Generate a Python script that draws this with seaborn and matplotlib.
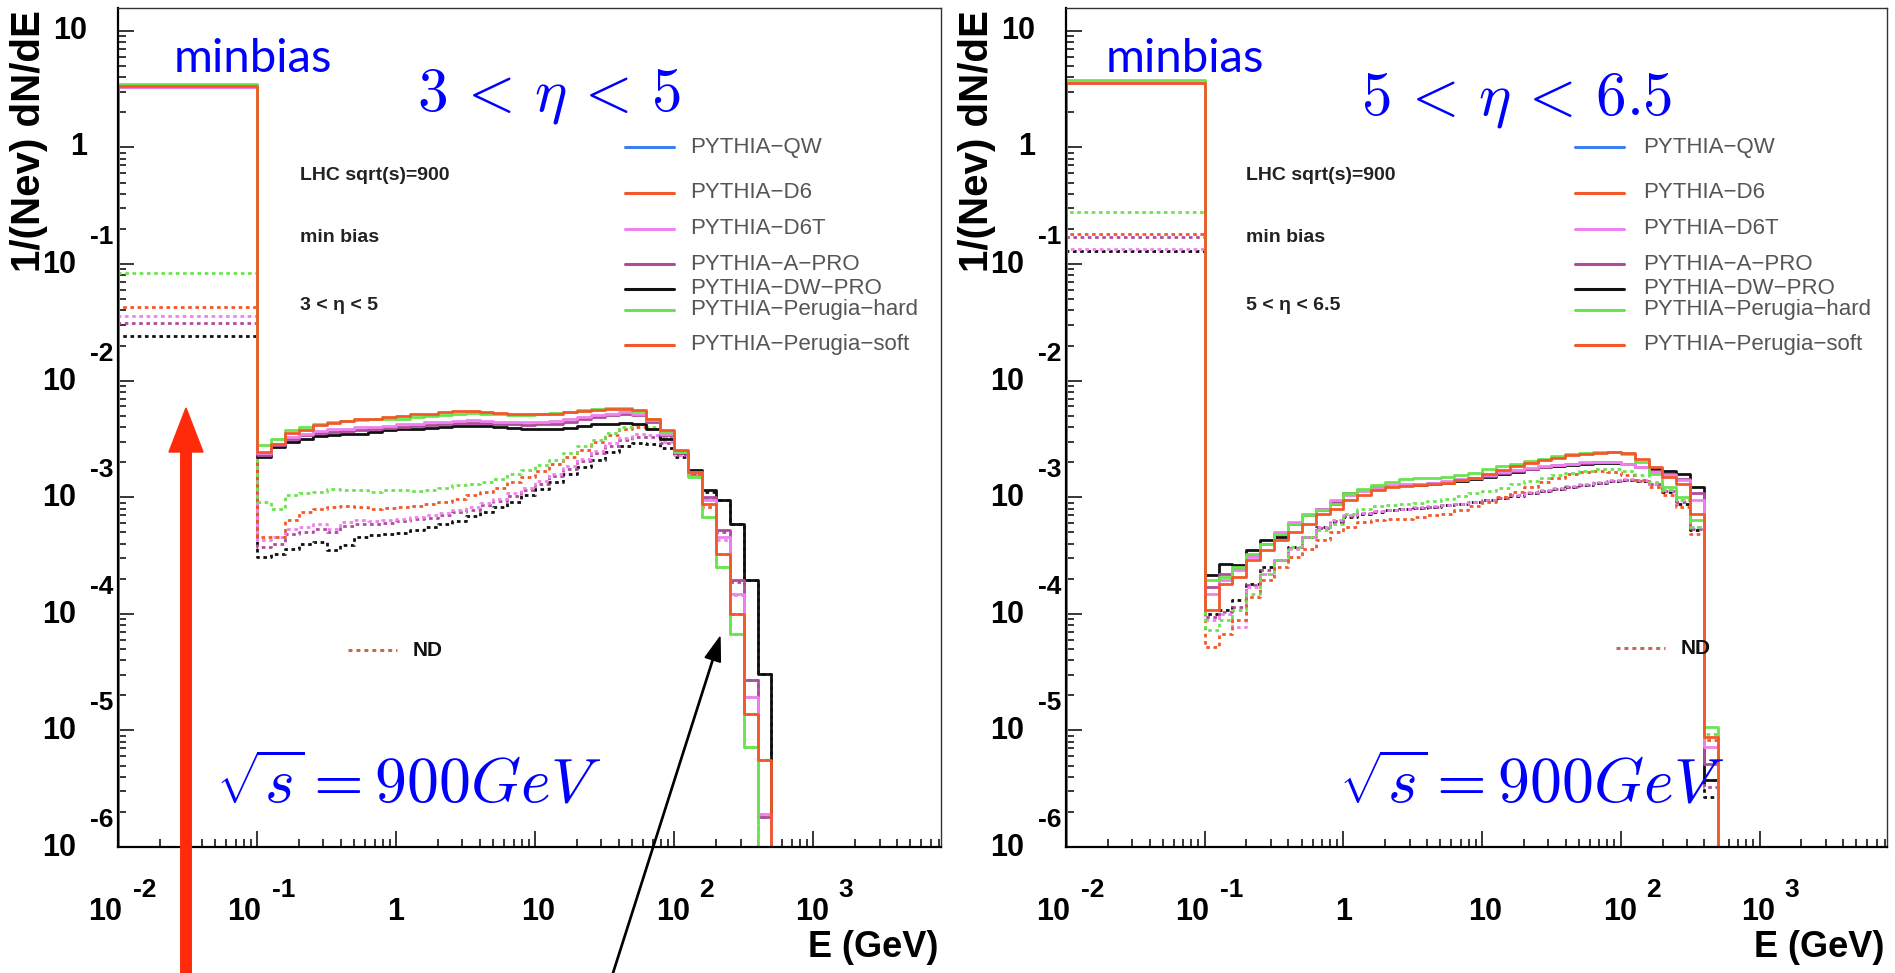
import numpy as np
import matplotlib
matplotlib.use("Agg")
import matplotlib.pyplot as plt
import seaborn as sns
from matplotlib.lines import Line2D
from matplotlib.patches import FancyArrow
from matplotlib.transforms import IdentityTransform
from matplotlib.ticker import LogLocator, FixedLocator, NullFormatter

# ------------------------------------------------------------------ data
# histogram binning: one wide bin 0.01-0.1 GeV, then 0.1-decade log bins up to ~500 GeV
FIRST_EDGE = 0.01
FINE_START_LOG = -1.0
FINE_STEP_LOG = 0.1
N_FINE = 37

TUNE_NAMES = ["PYTHIA\u2212QW", "PYTHIA\u2212D6", "PYTHIA\u2212D6T", "PYTHIA\u2212A\u2212PRO",
              "PYTHIA\u2212DW\u2212PRO", "PYTHIA\u2212Perugia\u2212hard", "PYTHIA\u2212Perugia\u2212soft"]
TUNE_COLORS = ["#3C7FF0", "#F2592A", "#EE82EE", "#B04C9C", "#111111", "#6BE34F", "#F2592A"]
ND_COLOR = "#C9694A"

# values are log10(1/Nev dN/dE); first entry = 0.01-0.1 bin, then the 37 fine bins
# ---- 3 < eta < 5, all events (solid)
L3_SOFT = [0.526, -2.61, -2.54, -2.45, -2.425, -2.38, -2.36, -2.345, -2.33, -2.325, -2.316,
           -2.305, -2.29, -2.282, -2.27, -2.262, -2.262, -2.268, -2.276, -2.282, -2.288,
           -2.288, -2.282, -2.27, -2.259, -2.248, -2.24, -2.24, -2.253, -2.325, -2.425,
           -2.596, -2.782, -3.054, -3.483, -3.998, -4.856, -5.256]
L3_HARD = [0.544, -2.554, -2.497, -2.425, -2.396, -2.368, -2.353, -2.345, -2.339, -2.333, -2.328,
           -2.325, -2.316, -2.305, -2.293, -2.282, -2.279, -2.282, -2.288, -2.293, -2.293,
           -2.288, -2.276, -2.265, -2.253, -2.242, -2.236, -2.236, -2.259, -2.325, -2.439,
           -2.611, -2.825, -3.169, -3.598, -4.169, -5.142, -9.0]
L3_DWPRO = [0.52, -2.654, -2.568, -2.525, -2.497, -2.476, -2.468, -2.462, -2.454, -2.439, -2.425,
            -2.419, -2.414, -2.405, -2.396, -2.391, -2.388, -2.391, -2.396, -2.405, -2.411,
            -2.416, -2.414, -2.405, -2.391, -2.376, -2.368, -2.362, -2.373, -2.411, -2.497,
            -2.625, -2.768, -2.94, -3.025, -3.226, -3.71, -4.513]
L3_APRO = [0.52, -2.64, -2.554, -2.497, -2.468, -2.448, -2.439, -2.431, -2.425, -2.416, -2.405,
           -2.396, -2.388, -2.379, -2.371, -2.365, -2.362, -2.365, -2.371, -2.376, -2.379,
           -2.376, -2.368, -2.353, -2.333, -2.316, -2.299, -2.288, -2.296, -2.353, -2.468,
           -2.625, -2.782, -2.997, -3.283, -3.712, -4.57, -5.742]
L3_D6T = [0.52, -2.625, -2.545, -2.482, -2.454, -2.431, -2.419, -2.411, -2.402, -2.394, -2.385,
          -2.376, -2.368, -2.359, -2.351, -2.345, -2.342, -2.345, -2.351, -2.353, -2.356,
          -2.353, -2.345, -2.331, -2.316, -2.299, -2.282, -2.273, -2.282, -2.339, -2.454,
          -2.611, -2.782, -3.026, -3.34, -3.826, -4.713, -5.714]
# ---- 3 < eta < 5, non-diffractive (dashed)
L3_SOFT_ND = [-1.366, -3.34, -3.34, -3.197, -3.126, -3.097, -3.083, -3.077, -3.088, -3.097, -3.091,
              -3.083, -3.077, -3.06, -3.04, -3.011, -2.983, -2.954, -2.917, -2.868, -2.825,
              -2.774, -2.717, -2.654, -2.591, -2.525, -2.468, -2.419, -2.396, -2.411, -2.482,
              -2.611, -2.797, -3.083, -3.483, -3.998, -4.856, -5.256]
L3_HARD_ND = [-1.076, -3.04, -3.097, -2.983, -2.968, -2.954, -2.926, -2.94, -2.94, -2.954, -2.94,
              -2.94, -2.946, -2.94, -2.917, -2.897, -2.883, -2.868, -2.84, -2.805, -2.768,
              -2.725, -2.677, -2.619, -2.562, -2.505, -2.448, -2.396, -2.373, -2.396, -2.482,
              -2.625, -2.825, -3.169, -3.598, -4.169, -5.142, -9.0]
L3_D6T_ND = [-1.444, -3.369, -3.34, -3.269, -3.254, -3.226, -3.269, -3.211, -3.197, -3.203, -3.197,
             -3.183, -3.169, -3.154, -3.134, -3.111, -3.083, -3.048, -3.011, -2.968, -2.917,
             -2.86, -2.797, -2.734, -2.668, -2.602, -2.539, -2.488, -2.462, -2.468, -2.525,
             -2.64, -2.797, -3.054, -3.369, -3.84, -4.713, -5.714]
L3_APRO_ND = [-1.509, -3.426, -3.397, -3.312, -3.297, -3.269, -3.297, -3.249, -3.232, -3.232, -3.22,
              -3.203, -3.191, -3.174, -3.154, -3.131, -3.106, -3.071, -3.031, -2.988, -2.94,
              -2.883, -2.82, -2.754, -2.688, -2.625, -2.562, -2.511, -2.482, -2.482, -2.539,
              -2.64, -2.797, -3.011, -3.297, -3.726, -4.57, -5.743]
L3_DWPRO_ND = [-1.62, -3.512, -3.483, -3.44, -3.397, -3.383, -3.455, -3.412, -3.34, -3.326, -3.317,
               -3.306, -3.277, -3.254, -3.232, -3.203, -3.163, -3.126, -3.088, -3.04, -2.983,
               -2.926, -2.868, -2.805, -2.74, -2.677, -2.611, -2.562, -2.539, -2.545, -2.582,
               -2.654, -2.782, -2.954, -3.025, -3.226, -3.71, -4.513]

# ---- 5 < eta < 6.5, all events (solid)
L5_SOFT = [0.556, -3.969, -3.741, -3.683, -3.54, -3.455, -3.369, -3.297, -3.226, -3.14, -3.097,
           -3.026, -2.983, -2.94, -2.911, -2.905, -2.897, -2.888, -2.877, -2.854, -2.831,
           -2.803, -2.768, -2.734, -2.705, -2.682, -2.66, -2.642, -2.631, -2.619, -2.614,
           -2.625, -2.668, -2.74, -2.825, -2.883, -3.14, -5.056]
L5_HARD = [0.58, -3.712, -3.683, -3.598, -3.483, -3.397, -3.312, -3.226, -3.154, -3.111, -3.054,
           -2.968, -2.926, -2.897, -2.868, -2.848, -2.834, -2.831, -2.825, -2.811, -2.791,
           -2.762, -2.734, -2.711, -2.688, -2.668, -2.648, -2.631, -2.619, -2.611, -2.611,
           -2.631, -2.697, -2.797, -2.911, -2.997, -3.197, -4.97]
L5_DWPRO = [0.556, -3.669, -3.569, -3.583, -3.455, -3.369, -3.34, -3.226, -3.154, -3.097, -3.054,
            -2.968, -2.94, -2.917, -2.905, -2.897, -2.891, -2.888, -2.877, -2.865, -2.848,
            -2.825, -2.803, -2.78, -2.762, -2.745, -2.731, -2.72, -2.711, -2.705, -2.705,
            -2.711, -2.74, -2.762, -2.774, -2.797, -2.911, -5.428]
L5_APRO = [0.556, -3.769, -3.655, -3.612, -3.498, -3.397, -3.317, -3.226, -3.154, -3.106, -3.04,
           -2.974, -2.94, -2.911, -2.9, -2.891, -2.885, -2.88, -2.868, -2.854, -2.837,
           -2.817, -2.794, -2.774, -2.757, -2.74, -2.725, -2.714, -2.705, -2.7, -2.702,
           -2.717, -2.745, -2.774, -2.797, -2.84, -2.968, -5.285]
L5_D6T = [0.556, -3.826, -3.712, -3.626, -3.512, -3.397, -3.297, -3.211, -3.14, -3.097, -3.026,
          -2.983, -2.946, -2.917, -2.897, -2.888, -2.883, -2.877, -2.865, -2.848, -2.831,
          -2.811, -2.788, -2.768, -2.748, -2.734, -2.72, -2.711, -2.702, -2.697, -2.7,
          -2.711, -2.745, -2.782, -2.811, -2.854, -3.026, -5.142]
# ---- 5 < eta < 6.5, non-diffractive (dashed)
L5_SOFT_ND = [-0.745, -4.284, -4.17, -4.055, -3.855, -3.712, -3.598, -3.512, -3.44, -3.369, -3.297,
              -3.254, -3.211, -3.197, -3.191, -3.183, -3.169, -3.154, -3.14, -3.111, -3.077,
              -3.04, -2.997, -2.954, -2.911, -2.868, -2.831, -2.803, -2.782, -2.774, -2.782,
              -2.811, -2.854, -2.911, -2.983, -3.083, -3.312, -5.085]
L5_HARD_ND = [-0.553, -4.141, -4.055, -3.969, -3.826, -3.655, -3.54, -3.426, -3.34, -3.283, -3.226,
              -3.14, -3.097, -3.077, -3.068, -3.06, -3.048, -3.031, -3.011, -2.991, -2.968,
              -2.946, -2.917, -2.888, -2.86, -2.831, -2.808, -2.791, -2.774, -2.762, -2.762,
              -2.774, -2.811, -2.868, -2.94, -3.026, -3.254, -5.028]
L5_D6T_ND = [-0.87, -4.055, -3.998, -4.112, -3.769, -3.655, -3.54, -3.44, -3.34, -3.254, -3.197,
             -3.154, -3.134, -3.117, -3.106, -3.097, -3.088, -3.077, -3.066, -3.054, -3.04,
             -3.02, -2.997, -2.977, -2.957, -2.94, -2.923, -2.905, -2.888, -2.871, -2.854,
             -2.848, -2.854, -2.883, -2.94, -3.026, -3.254, -5.428]
L5_APRO_ND = [-0.77, -4.027, -3.984, -3.941, -3.755, -3.626, -3.54, -3.435, -3.34, -3.26, -3.206,
              -3.163, -3.137, -3.12, -3.109, -3.1, -3.091, -3.08, -3.069, -3.054, -3.04,
              -3.023, -3.003, -2.983, -2.963, -2.946, -2.928, -2.911, -2.894, -2.877, -2.86,
              -2.851, -2.857, -2.885, -2.946, -3.04, -3.269, -5.485]
L5_DWPRO_ND = [-0.886, -3.998, -3.969, -3.884, -3.741, -3.598, -3.54, -3.426, -3.34, -3.254, -3.211,
               -3.169, -3.14, -3.123, -3.111, -3.103, -3.094, -3.083, -3.071, -3.057, -3.043,
               -3.026, -3.006, -2.986, -2.966, -2.948, -2.931, -2.914, -2.897, -2.88, -2.863,
               -2.854, -2.86, -2.888, -2.954, -3.054, -3.283, -5.571]

XTICKS = [1e-2, 1e-1, 1.0, 10.0, 1e2, 1e3]
YTICKS = [1e-6, 1e-5, 1e-4, 1e-3, 1e-2, 1e-1, 1.0, 10.0]
XLIM = (0.01, 8300.0)
YLIM = (1e-6, 15.7)

# ------------------------------------------------------------------ style
W, H, DPI = 1895, 973, 100
sns.set_style("ticks")
plt.rcParams["font.family"] = ["Liberation Sans", "DejaVu Sans"]
plt.rcParams["mathtext.fontset"] = "cm"

fig = plt.figure(figsize=(W / DPI, H / DPI), dpi=DPI, facecolor="white")
ax_l = fig.add_axes([118 / W, 1 - 847 / H, 823 / W, 839 / H])
ax_r = fig.add_axes([1066 / W, 1 - 847 / H, 821 / W, 839 / H])

edges = np.concatenate([[FIRST_EDGE], 10 ** (FINE_START_LOG + FINE_STEP_LOG * np.arange(N_FINE + 1))])
FLOOR = 1e-9
DASH = (0, (1.3, 1.3))


def hist_step(ax, logvals, color, dashed, lw=2.0):
    vals = 10.0 ** np.asarray(logvals, dtype=float)
    xs = np.concatenate([[edges[0]], edges])
    ys = np.concatenate([[FLOOR], vals, [FLOOR]])
    kw = dict(linestyle=DASH) if dashed else {}
    sns.lineplot(x=xs, y=ys, ax=ax, color=color, lw=lw, drawstyle="steps-post",
                 estimator=None, sort=False, errorbar=None, legend=False, **kw)


panels = [
    (ax_l,
     [(L3_DWPRO_ND, 4), (L3_APRO_ND, 3), (L3_D6T_ND, 2), (L3_SOFT_ND, 6), (L3_HARD_ND, 5)],
     [(L3_DWPRO, 4), (L3_APRO, 3), (L3_D6T, 2), (L3_HARD, 5), (L3_SOFT, 6)]),
    (ax_r,
     [(L5_DWPRO_ND, 4), (L5_APRO_ND, 3), (L5_D6T_ND, 2), (L5_SOFT_ND, 6), (L5_HARD_ND, 5)],
     [(L5_DWPRO, 4), (L5_APRO, 3), (L5_D6T, 2), (L5_HARD, 5), (L5_SOFT, 6)]),
]

for ax, nd_list, all_list in panels:
    ax.set_xscale("log")
    ax.set_yscale("log")
    for vals, ti in nd_list:
        hist_step(ax, vals, TUNE_COLORS[ti], True)
    for vals, ti in all_list:
        hist_step(ax, vals, TUNE_COLORS[ti], False)
    ax.set_xlim(*XLIM)
    ax.set_ylim(*YLIM)
    ax.set_xlabel("")
    ax.set_ylabel("")
    ax.xaxis.set_major_locator(FixedLocator(XTICKS))
    ax.yaxis.set_major_locator(FixedLocator(YTICKS))
    ax.xaxis.set_minor_locator(LogLocator(base=10, subs=np.arange(2, 10), numticks=60))
    ax.yaxis.set_minor_locator(LogLocator(base=10, subs=np.arange(2, 10), numticks=60))
    ax.xaxis.set_minor_formatter(NullFormatter())
    ax.yaxis.set_minor_formatter(NullFormatter())
    ax.tick_params(which="both", direction="in", top=False, right=False,
                   labelbottom=False, labelleft=False, color="black", width=1.1)
    ax.tick_params(which="major", length=11.5)
    ax.tick_params(which="minor", length=5.8)
    for s in ("left", "bottom"):
        ax.spines[s].set_linewidth(1.6)
        ax.spines[s].set_color("black")
    for s in ("top", "right"):
        ax.spines[s].set_linewidth(1.0)
        ax.spines[s].set_color("#333333")
    ax.set_facecolor("white")


def T(xp, yp, s, **kw):
    """text at pixel position (x from left, y from top)"""
    return fig.text(xp / W, 1 - yp / H, s, **kw)


TICK_FONT = dict(weight="bold", color="black", family=["Liberation Sans", "DejaVu Sans"])
NARROW = ["Liberation Sans Narrow", "Liberation Sans", "DejaVu Sans"]

for ax in (ax_l, ax_r):
    x0, y_bot = ax.transData.transform((XLIM[0], YLIM[0]))
    x1, _ = ax.transData.transform((XLIM[1], YLIM[0]))
    # y tick labels
    for yv in YTICKS:
        _, py = ax.transData.transform((XLIM[0], yv))
        yt = H - py
        e = int(round(np.log10(yv)))
        if e == 1:
            T(x0 - 31, yt, "10", ha="right", va="center", size=22, **TICK_FONT)
        elif e == 0:
            T(x0 - 31, yt, "1", ha="right", va="center", size=22, **TICK_FONT)
        else:
            T(x0 - 42, yt + 1, "10", ha="right", va="center", size=22, **TICK_FONT)
            T(x0 - 28, yt - 27, str(e), ha="left", va="center", size=19, **TICK_FONT)
    # x tick labels
    for xv in XTICKS:
        px, _ = ax.transData.transform((xv, YLIM[0]))
        e = int(round(np.log10(xv)))
        if e == 0:
            T(px, 912, "1", ha="center", va="center", size=22, **TICK_FONT)
        elif e == 1:
            T(px + 3, 912, "10", ha="center", va="center", size=22, **TICK_FONT)
        else:
            a, b = (4, 15) if e < 0 else (16, 25)
            T(px + a, 912, "10", ha="right", va="center", size=22, **TICK_FONT)
            T(px + b, 890, str(e), ha="left", va="center", size=19, **TICK_FONT)
    T(x1 - 3, 957, "E (GeV)", ha="right", va="baseline", size=26, **TICK_FONT)
    T(x0 - 89, 10, "1/(Nev) dN/dE", rotation=90, ha="center", va="top", size=29, **TICK_FONT)

# annotations per panel
BLUE = "#0000FF"
T(174, 72, "minbias", ha="left", va="baseline", size=34, color=BLUE, family=["Lato", "DejaVu Sans"])
T(1106, 72, "minbias", ha="left", va="baseline", size=34, color=BLUE, family=["Lato", "DejaVu Sans"])
T(417, 110, r"$3\,<\,\eta\,<\,5$", ha="left", va="baseline", size=44, color=BLUE)
T(1361, 114, r"$5\,<\,\eta\,<\,6.5$", ha="left", va="baseline", size=44, color=BLUE)
T(216, 802, r"$\sqrt{s} = 900GeV$", ha="left", va="baseline", size=46, color=BLUE)
T(1339, 802, r"$\sqrt{s} = 900GeV$", ha="left", va="baseline", size=46, color=BLUE)

for xs, eta_txt in ((300, "3 < \u03b7 < 5"), (1246, "5 < \u03b7 < 6.5")):
    T(xs, 176, "LHC sqrt(s)=900", ha="left", va="center", size=14, weight="bold", color="#222222", family=NARROW)
    T(xs, 237, "min bias", ha="left", va="center", size=14, weight="bold", color="#222222", family=NARROW)
    T(xs, 305, eta_txt, ha="left", va="center", size=14, weight="bold", color="#222222", family=NARROW)

LEG_Y = [147, 193, 229, 264, 289, 310, 345]
for lx0, lx1, tx in ((625, 674, 690), (1575, 1624, 1643)):
    for name, col, yy in zip(TUNE_NAMES, TUNE_COLORS, LEG_Y):
        fig.add_artist(Line2D([lx0 / W, lx1 / W], [1 - yy / H, 1 - yy / H], color=col, lw=2.2,
                              transform=fig.transFigure))
        T(tx, yy, name, ha="left", va="center", size=16, color="#555555")

for lx0, lx1, tx, yy in ((348, 397, 413, 650), (1616, 1665, 1681, 648)):
    fig.add_artist(Line2D([lx0 / W, lx1 / W], [1 - yy / H, 1 - yy / H], color=ND_COLOR, lw=2.2,
                          linestyle=DASH, transform=fig.transFigure))
    T(tx, yy, "ND", ha="left", va="center", size=15, weight="bold", color="#111111", family=NARROW)

# arrows (pixel coordinates, origin bottom-left)
red_arrow = FancyArrow(186, -5, 0, (H - 408) + 5, width=10.5, head_width=34, head_length=44,
                       length_includes_head=True, color="#FF2A0A", transform=IdentityTransform(),
                       zorder=10)
fig.add_artist(red_arrow)
blk_arrow = FancyArrow(613, 0, 720 - 613, H - 637, width=1.3, head_width=16, head_length=24,
                       length_includes_head=True, color="black", transform=IdentityTransform(),
                       zorder=10)
fig.add_artist(blk_arrow)

fig.savefig("out.png", dpi=DPI, facecolor="white")
